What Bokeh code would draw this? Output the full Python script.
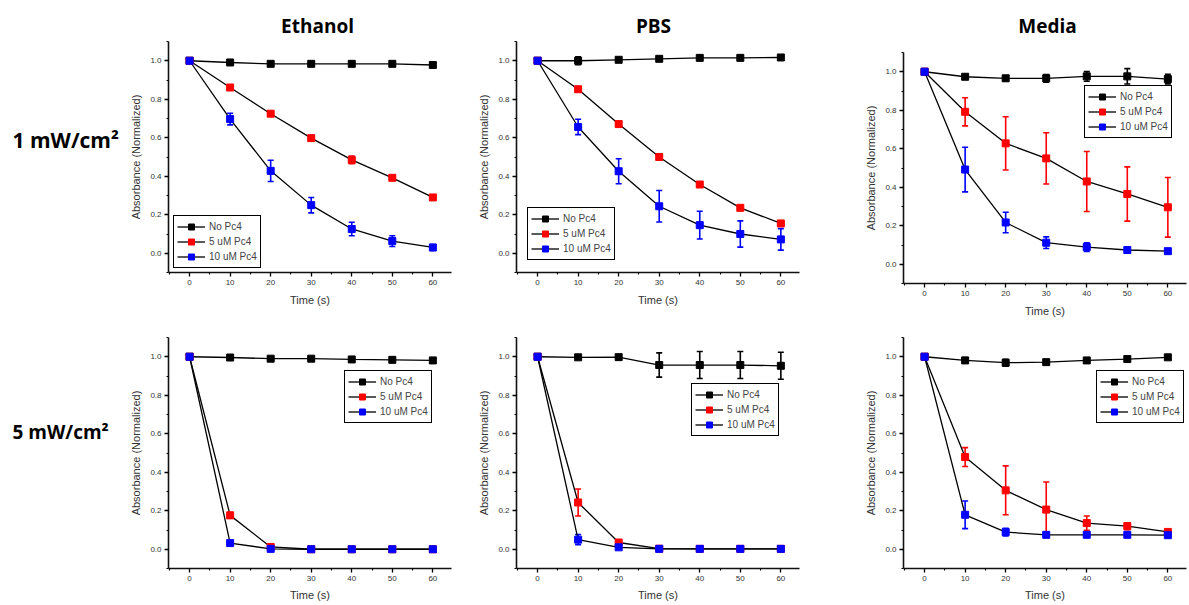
from bokeh.plotting import figure
from bokeh.layouts import row, column
from bokeh.models import (ColumnDataSource, Whisker, TeeHead, Range1d, Legend,
                          LegendItem, FixedTicker, PrintfTickFormatter)
from bokeh.core.properties import value
from bokeh.embed import file_html
from bokeh.resources import INLINE

# ---------------- data ----------------
time_s = [0, 10, 20, 30, 40, 50, 60]
series_names = ["No Pc4", "5 uM Pc4", "10 uM Pc4"]
series_colors = ["#000000", "#ff0000", "#0000ff"]
column_titles = ["Ethanol", "PBS", "Media"]
row_titles = ["1 mW/cm\u00b2", "5 mW/cm\u00b2"]
x_label = "Time (s)"
y_label = "Absorbance (Normalized)"

# 1 mW/cm2, Ethanol
eth1_no = [1.0, 0.991, 0.984, 0.984, 0.984, 0.984, 0.978]
eth1_no_err = [0.0, 0.005, 0.008, 0.008, 0.008, 0.008, 0.005]
eth1_5 = [1.0, 0.861, 0.725, 0.598, 0.485, 0.392, 0.29]
eth1_5_err = [0.0, 0.01, 0.005, 0.005, 0.02, 0.008, 0.012]
eth1_10 = [1.0, 0.697, 0.428, 0.25, 0.126, 0.063, 0.03]
eth1_10_err = [0.0, 0.03, 0.055, 0.04, 0.035, 0.028, 0.015]

# 1 mW/cm2, PBS
pbs1_no = [1.0, 1.0, 1.005, 1.01, 1.015, 1.015, 1.017]
pbs1_no_err = [0.0, 0.02, 0.005, 0.005, 0.005, 0.005, 0.005]
pbs1_5 = [1.0, 0.852, 0.671, 0.5, 0.357, 0.236, 0.155]
pbs1_5_err = [0.0, 0.005, 0.012, 0.015, 0.005, 0.005, 0.012]
pbs1_10 = [1.0, 0.656, 0.426, 0.244, 0.146, 0.1, 0.072]
pbs1_10_err = [0.0, 0.04, 0.065, 0.082, 0.072, 0.068, 0.056]

# 1 mW/cm2, Media
med1_no = [1.0, 0.974, 0.966, 0.966, 0.976, 0.976, 0.962]
med1_no_err = [0.0, 0.008, 0.012, 0.02, 0.025, 0.04, 0.025]
med1_5 = [1.0, 0.792, 0.628, 0.55, 0.43, 0.365, 0.296]
med1_5_err = [0.0, 0.073, 0.138, 0.133, 0.156, 0.141, 0.155]
med1_10 = [1.0, 0.492, 0.217, 0.112, 0.089, 0.074, 0.068]
med1_10_err = [0.0, 0.116, 0.053, 0.03, 0.022, 0.012, 0.005]

# 5 mW/cm2, Ethanol
eth5_no = [1.0, 0.996, 0.99, 0.99, 0.986, 0.984, 0.981]
eth5_no_err = [0.0, 0.005, 0.005, 0.005, 0.005, 0.005, 0.005]
eth5_5 = [1.0, 0.176, 0.012, 0.0, 0.0, 0.0, 0.0]
eth5_5_err = [0.0, 0.015, 0.005, 0.0, 0.0, 0.0, 0.0]
eth5_10 = [1.0, 0.032, 0.002, 0.0, 0.0, 0.0, 0.0]
eth5_10_err = [0.0, 0.012, 0.004, 0.0, 0.0, 0.0, 0.0]

# 5 mW/cm2, PBS
pbs5_no = [1.0, 0.997, 0.998, 0.957, 0.957, 0.957, 0.953]
pbs5_no_err = [0.0, 0.005, 0.005, 0.063, 0.07, 0.07, 0.07]
pbs5_5 = [1.0, 0.243, 0.035, 0.003, 0.002, 0.002, 0.002]
pbs5_5_err = [0.0, 0.07, 0.01, 0.0, 0.0, 0.0, 0.0]
pbs5_10 = [1.0, 0.05, 0.01, 0.002, 0.002, 0.002, 0.002]
pbs5_10_err = [0.0, 0.027, 0.005, 0.0, 0.0, 0.0, 0.0]

# 5 mW/cm2, Media
med5_no = [1.0, 0.981, 0.969, 0.972, 0.981, 0.988, 0.997]
med5_no_err = [0.0, 0.015, 0.018, 0.01, 0.012, 0.008, 0.005]
med5_5 = [1.0, 0.479, 0.306, 0.206, 0.136, 0.12, 0.09]
med5_5_err = [0.0, 0.049, 0.127, 0.143, 0.037, 0.018, 0.005]
med5_10 = [1.0, 0.179, 0.089, 0.075, 0.075, 0.075, 0.073]
med5_10_err = [0.0, 0.072, 0.02, 0.005, 0.005, 0.005, 0.005]

TICK_FONT = "Liberation Sans"


def make_panel(series, width, height, bl, br, bt, bb, x_end, legend_loc, label_standoff):
    p = figure(width=width, height=height, x_range=Range1d(-5.2, x_end),
               y_range=Range1d(-0.1, 1.1), output_backend="svg",
               toolbar_location=None, min_border_left=bl, min_border_right=br,
               min_border_top=bt, min_border_bottom=bb)
    p.outline_line_color = None
    p.grid.visible = False
    p.xaxis.ticker = FixedTicker(ticks=[0, 10, 20, 30, 40, 50, 60],
                                 minor_ticks=[-5, 5, 15, 25, 35, 45, 55, 65])
    p.yaxis.ticker = FixedTicker(ticks=[0.0, 0.2, 0.4, 0.6, 0.8, 1.0],
                                 minor_ticks=[-0.1, 0.1, 0.3, 0.5, 0.7, 0.9, 1.1])
    p.yaxis.formatter = PrintfTickFormatter(format="%.1f")
    p.xaxis.axis_label = x_label
    p.yaxis.axis_label = y_label
    for ax in (p.xaxis[0], p.yaxis[0]):
        ax.axis_line_width = 1.6
        ax.axis_line_color = "#111111"
        ax.major_tick_line_width = 1.3
        ax.minor_tick_line_width = 1.1
        ax.major_tick_in = 0
        ax.major_tick_out = 4
        ax.minor_tick_in = 0
        ax.minor_tick_out = 2
        ax.major_label_text_font = TICK_FONT
        ax.major_label_text_font_size = "8px"
        ax.major_label_text_color = "#333333"
        ax.major_label_standoff = 3
        ax.axis_label_text_font = TICK_FONT
        ax.axis_label_text_font_style = "normal"
        ax.axis_label_text_color = "#333333"
    p.xaxis.axis_label_text_font_size = "11px"
    p.yaxis.axis_label_text_font_size = "11px"
    p.xaxis.axis_label_standoff = label_standoff
    p.yaxis.axis_label_standoff = 5

    items = []
    for (vals, errs), color, name in zip(series, series_colors, series_names):
        ln = p.line(time_s, vals, line_color="black", line_width=1.3)
        src = ColumnDataSource(dict(x=time_s,
                                    upper=[v + e for v, e in zip(vals, errs)],
                                    lower=[v - e for v, e in zip(vals, errs)]))
        wh = Whisker(source=src, base="x", upper="upper", lower="lower",
                     line_color=color, line_width=1.6,
                     upper_head=TeeHead(size=6, line_color=color, line_width=1.6),
                     lower_head=TeeHead(size=6, line_color=color, line_width=1.6))
        p.add_layout(wh)
        sc = p.scatter(time_s, vals, marker="square", size=7,
                       fill_color=color, line_color=color)
        items.append(LegendItem(label=name, renderers=[ln, sc]))
    legend = Legend(items=items, location=legend_loc, border_line_color="black",
                    border_line_alpha=1.0, border_line_width=1.8, padding=3,
                    spacing=0, margin=0, glyph_width=28, glyph_height=15,
                    label_height=15, label_standoff=4, label_text_font=TICK_FONT,
                    label_text_font_size="10px", background_fill_alpha=1.0)
    p.add_layout(legend)
    return p


p11 = make_panel([(eth1_no, eth1_no_err), (eth1_5, eth1_5_err), (eth1_10, eth1_10_err)],
                 348, 289, 46, 19, 3, 55, 64.6, (5, 4), 6)
p12 = make_panel([(pbs1_no, pbs1_no_err), (pbs1_5, pbs1_5_err), (pbs1_10, pbs1_10_err)],
                 385, 289, 46, 56, 3, 55, 64.6, (11, 12), 6)
p13 = make_panel([(med1_no, med1_no_err), (med1_5, med1_5_err), (med1_10, med1_10_err)],
                 332, 289, 48, 1, 14, 44, 64.6, (181, 145), 6)
p21 = make_panel([(eth5_no, eth5_no_err), (eth5_5, eth5_5_err), (eth5_10, eth5_10_err)],
                 348, 276, 46, 19, 10, 35, 64.6, (176, 145), 5)
p22 = make_panel([(pbs5_no, pbs5_no_err), (pbs5_5, pbs5_5_err), (pbs5_10, pbs5_10_err)],
                 385, 276, 46, 56, 10, 35, 64.6, (175, 132), 5)
p23 = make_panel([(med5_no, med5_no_err), (med5_5, med5_5_err), (med5_10, med5_10_err)],
                 332, 276, 48, 1, 10, 35, 64.6, (193, 145), 5)


def text_canvas(width, height, x0, y0):
    f = figure(width=width, height=height, x_range=Range1d(x0, x0 + width),
               y_range=Range1d(y0 + height, y0), output_backend="svg",
               toolbar_location=None, min_border=0,
               x_axis_location=None, y_axis_location=None)
    f.outline_line_color = None
    f.grid.visible = False
    return f


header = text_canvas(1187, 38, 0, 0)
header.text(x=[317, 653, 1047], y=[25, 25, 25], text=column_titles,
            text_font=value("Open Sans"), text_font_style="bold",
            text_font_size="19px", text_align="center", text_baseline="middle",
            text_color="black")

labels = text_canvas(122, 565, 0, 38)
labels.text(x=[12], y=[139], text=[row_titles[0]], text_font=value("Open Sans"),
            text_font_style="bold", text_font_size="21px", text_align="left",
            text_baseline="middle", text_color="black")
labels.text(x=[12], y=[431], text=[row_titles[1]], text_font=value("Open Sans"),
            text_font_style="bold", text_font_size="19px", text_align="left",
            text_baseline="middle", text_color="black")

layout = column(header,
                row(labels, column(p11, p21), column(p12, p22), column(p13, p23)))

open("out.html", "w").write(file_html(layout, INLINE))
